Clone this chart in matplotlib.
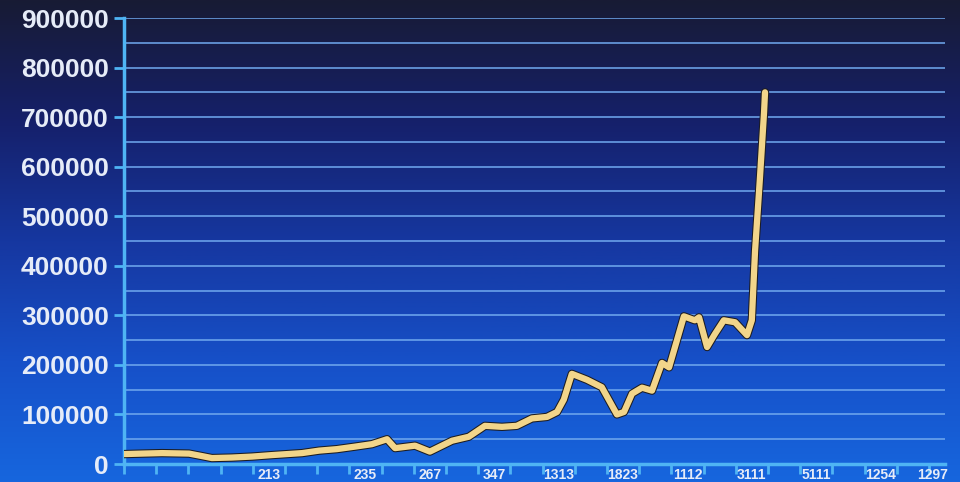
import matplotlib.pyplot as plt
import matplotlib.patheffects as pe
import numpy as np
from matplotlib.colors import LinearSegmentedColormap

# position along the category axis (tick units) and value
period = [0.00, 0.56, 1.18, 2.02, 2.42, 2.73, 3.35, 3.98, 4.60, 5.53,
          6.06, 6.61, 7.17, 7.70, 8.17, 8.42, 9.04, 9.50, 10.19, 10.71,
          11.21, 11.74, 12.20, 12.67, 13.14, 13.45, 13.66, 13.91, 14.38, 14.84,
          15.31, 15.53, 15.78, 16.09, 16.40, 16.71, 16.93, 17.39, 17.73, 17.86,
          18.11, 18.35, 18.63, 18.98, 19.35, 19.50, 19.60, 19.75, 19.88, 19.91]
value = [20000, 21000, 22000, 21000, 16000, 12000, 13000, 15000, 18000, 22000,
         27000, 30000, 35000, 40000, 50000, 32000, 37000, 25000, 47000, 55000,
         77000, 75000, 77000, 92000, 95000, 105000, 130000, 182000, 170000, 155000,
         100000, 105000, 142000, 154000, 148000, 204000, 195000, 298000, 290000, 296000,
         236000, 262000, 290000, 286000, 260000, 290000, 430000, 575000, 710000, 750000]

label_pos = [4, 7, 9, 11, 13, 15, 17, 19, 21, 23, 24.6]
label_txt = ["213", "235", "267", "347", "1313", "1823", "1112", "3111",
             "5111", "1254", "1297"]

fig = plt.figure(figsize=(9.6, 4.82), dpi=100)

# background gradient over whole figure
bg = fig.add_axes([0, 0, 1, 1], zorder=-10)
cmap = LinearSegmentedColormap.from_list(
    "bg", ["#181b34", "#15206a", "#1637a0", "#1650c8", "#1766de"])
grad = np.linspace(0, 1, 256).reshape(-1, 1)
bg.imshow(grad, aspect="auto", cmap=cmap, extent=[0, 1, 0, 1], origin="upper")
bg.axis("off")

ax = fig.add_axes([124 / 960, 18 / 482, (945 - 124) / 960, (464 - 18) / 482])
ax.patch.set_alpha(0)

for yv in np.arange(50000, 900001, 50000):
    ax.axhline(yv, color="#6fa8ee", lw=1.4, alpha=0.8, zorder=1)

ax.plot(period, value, color="#f2d58a", lw=4.5, solid_joinstyle="round",
        solid_capstyle="round", zorder=3,
        path_effects=[pe.Stroke(linewidth=6, foreground="#1c1c22"), pe.Normal()])

ax.set_xlim(0, 25.5)
ax.set_ylim(0, 900000)
ax.set_yticks(np.arange(0, 900001, 100000))
ax.set_yticklabels([str(v) for v in range(0, 900001, 100000)])
ax.set_xticks(np.arange(0, 26))
ax.set_xticklabels([])
ax.set_xticks([p + 0.5 for p in label_pos], minor=True)
ax.set_xticklabels(label_txt, minor=True)

for s in ["top", "right"]:
    ax.spines[s].set_visible(False)
for s in ["left", "bottom"]:
    ax.spines[s].set_color("#4fb4f4")
    ax.spines[s].set_linewidth(2.5)

ax.tick_params(axis="y", colors="#4fb4f4", length=7, width=2, labelcolor="#e6ecf8",
               labelsize=19, pad=4)
ax.tick_params(axis="x", which="major", colors="#4fb4f4", length=7, width=2,
               direction="out")
ax.tick_params(axis="x", which="minor", length=0, labelcolor="#e6ecf8",
               labelsize=10, pad=3)
for lab in ax.get_yticklabels() + ax.get_xticklabels(minor=True):
    lab.set_family("Liberation Sans")
    lab.set_fontweight("bold")

fig.savefig("out.png", dpi=100)
